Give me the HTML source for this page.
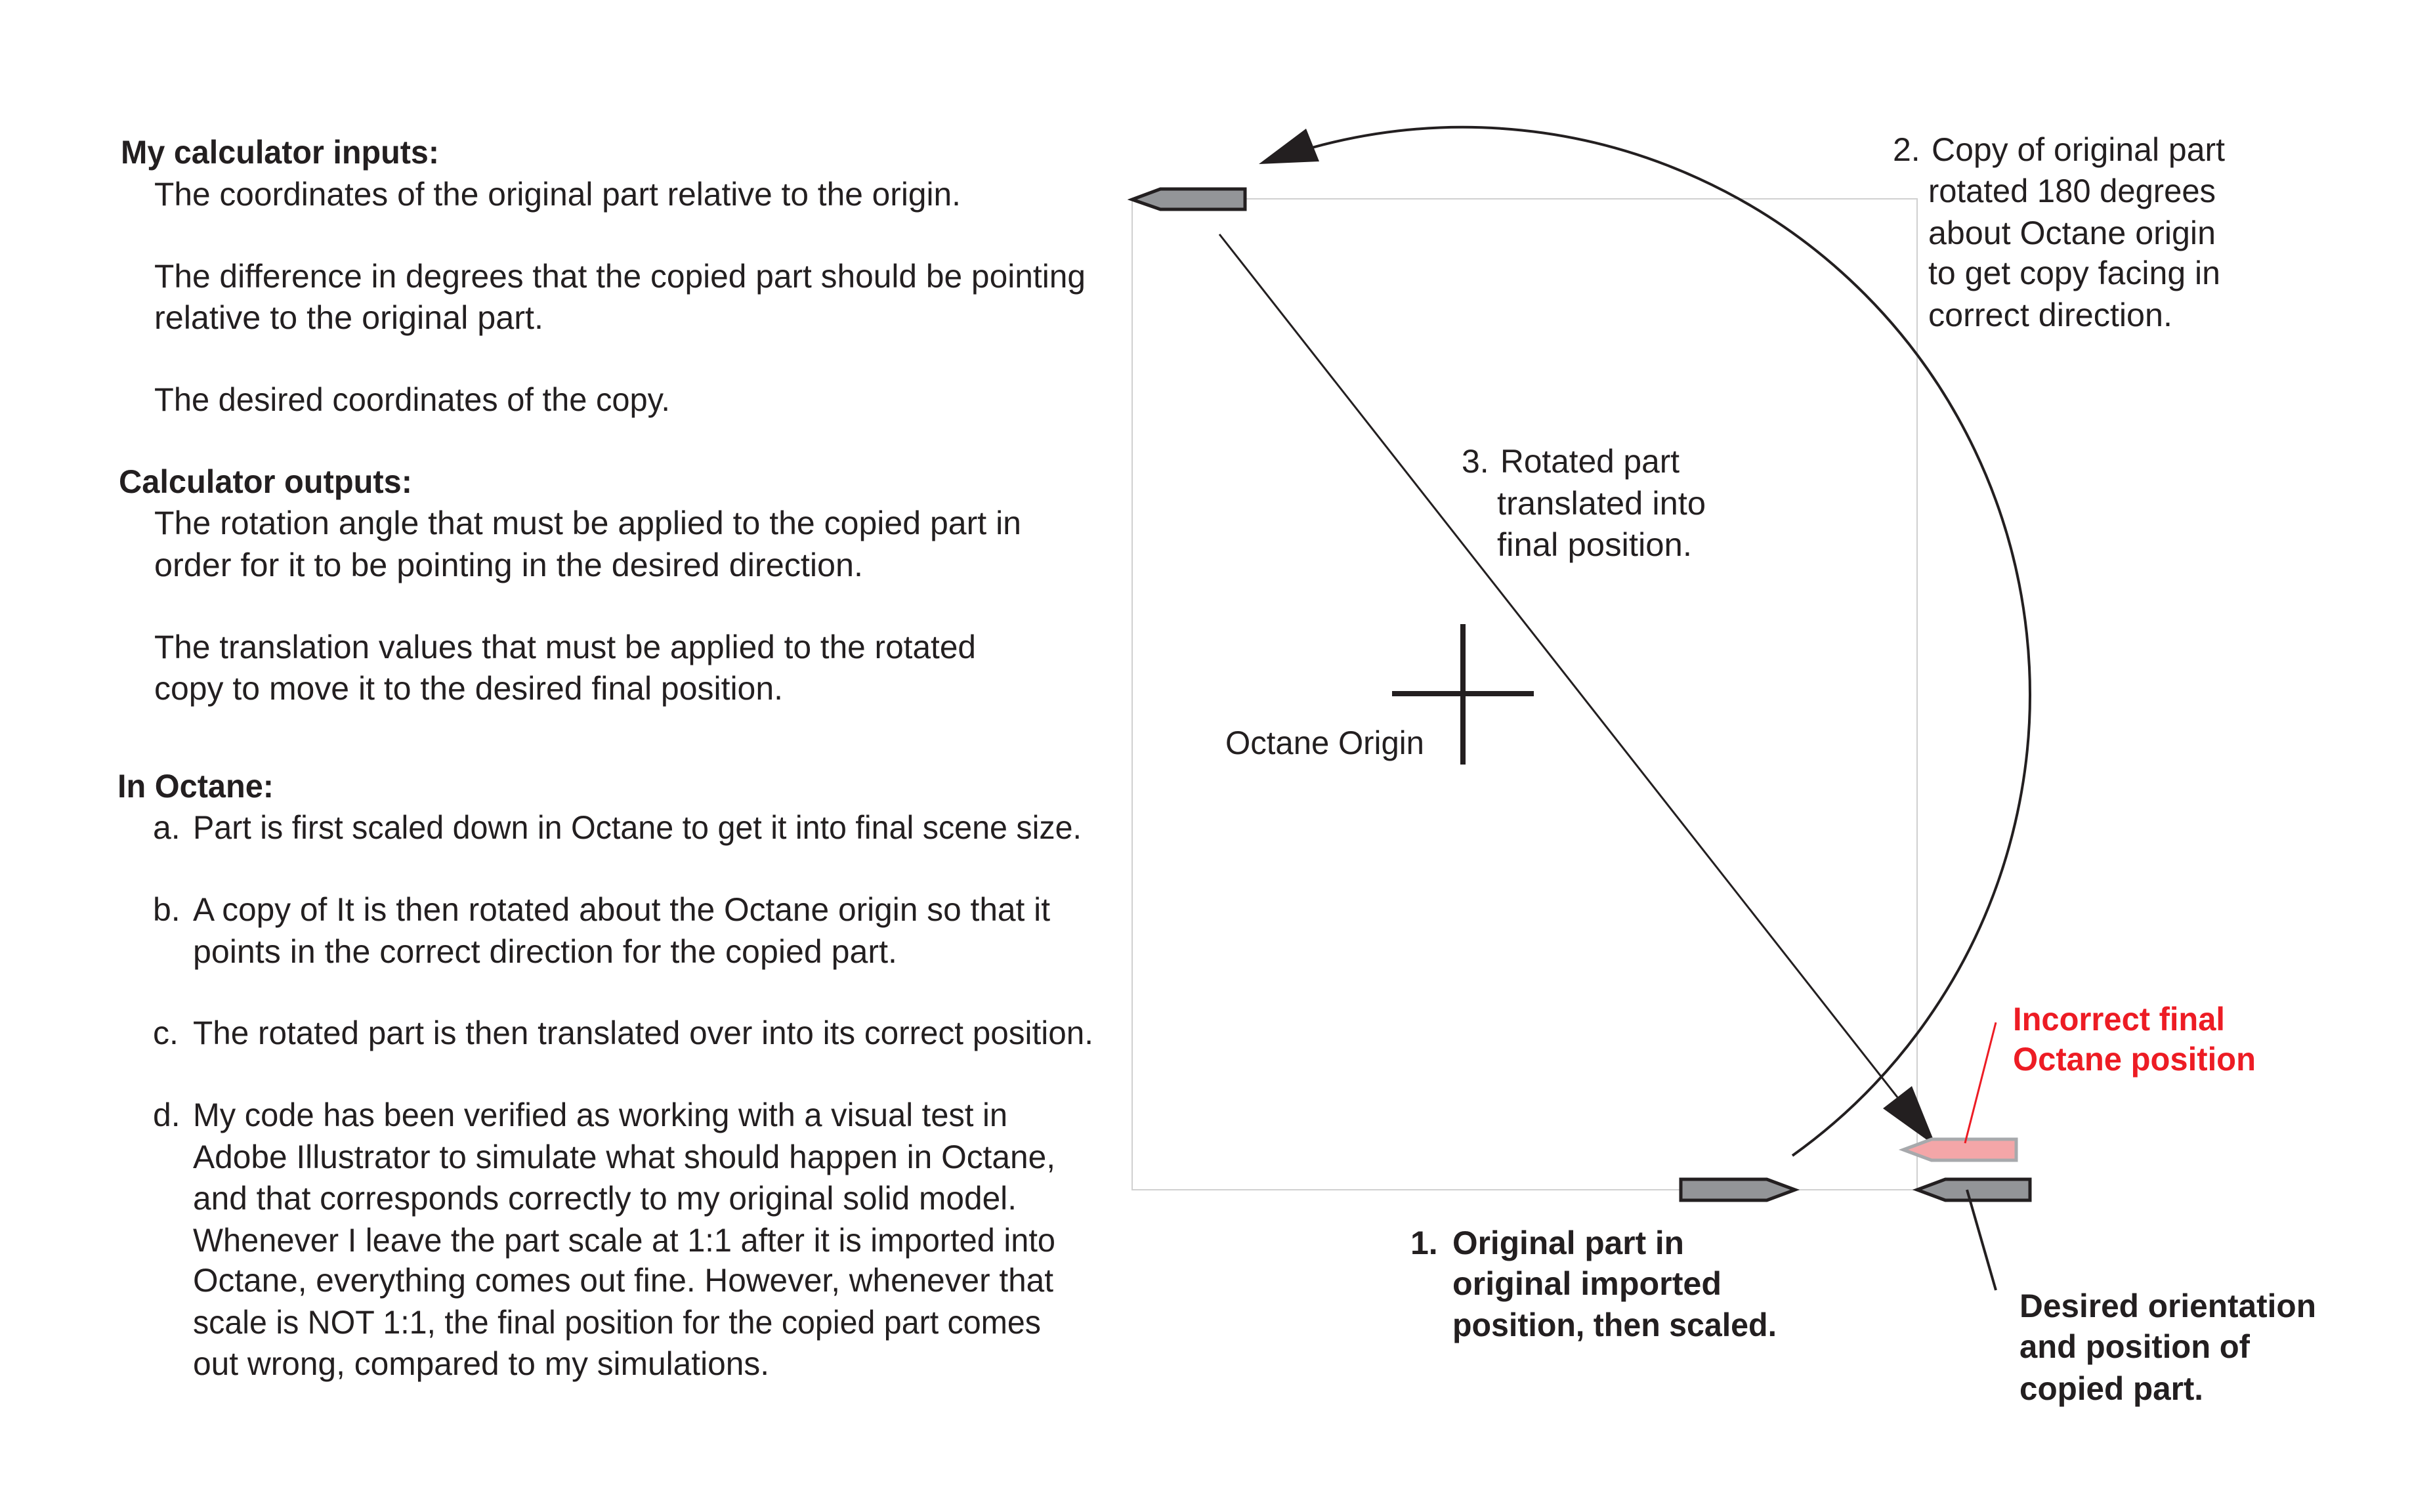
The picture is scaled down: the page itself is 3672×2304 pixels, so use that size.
<!DOCTYPE html>
<html><head><meta charset="utf-8"><style>html,body{margin:0;padding:0;background:#fff}svg{display:block}</style></head>
<body>
<svg width="3672" height="2304" viewBox="0 0 3672 2304" xmlns="http://www.w3.org/2000/svg" font-family="Liberation Sans, sans-serif" font-size="50" fill="#231f20">
<rect x="0" y="0" width="3672" height="2304" fill="#fff"/>
<rect x="1725" y="303" width="1196" height="1510" fill="none" stroke="#d0d0d0" stroke-width="2"/>
<!-- arc -->
<path d="M 2731 1761 A 864 864 0 0 0 1999 225" fill="none" stroke="#231f20" stroke-width="4"/>
<polygon points="1918,250 2010,246 1990,196" fill="#231f20"/>
<!-- diagonal -->
<line x1="1858" y1="357" x2="2891" y2="1672" stroke="#231f20" stroke-width="3"/>
<polygon points="2950,1747 2913,1655 2869,1689" fill="#231f20"/>
<!-- crosshair -->
<line x1="2229" y1="951" x2="2229" y2="1165" stroke="#231f20" stroke-width="8"/>
<line x1="2121" y1="1057" x2="2337" y2="1057" stroke="#231f20" stroke-width="8"/>
<!-- parts -->
<polygon points="1725,304 1768,288 1897,288 1897,319 1768,319" fill="#939598" stroke="#231f20" stroke-width="5"/>
<polygon points="2561,1797 2692,1797 2735,1813 2692,1829 2561,1829" fill="#939598" stroke="#231f20" stroke-width="5"/>
<polygon points="2921,1813 2964,1797 3093,1797 3093,1829 2964,1829" fill="#939598" stroke="#231f20" stroke-width="5"/>
<polygon points="2900,1752 2943,1736 3072,1736 3072,1768 2943,1768" fill="#f4a6a8" stroke="#a7a9ac" stroke-width="5"/>
<line x1="3041" y1="1558" x2="2994" y2="1742" stroke="#ed1c24" stroke-width="3"/>
<line x1="2997" y1="1813" x2="3041" y2="1966" stroke="#231f20" stroke-width="4"/>

<g>
<text x="184" y="249" font-weight="bold" textLength="485" lengthAdjust="spacingAndGlyphs">My calculator inputs:</text>
<text x="235" y="313" textLength="1229" lengthAdjust="spacingAndGlyphs">The coordinates of the original part relative to the origin.</text>
<text x="235" y="438" textLength="1419" lengthAdjust="spacingAndGlyphs">The difference in degrees that the copied part should be pointing</text>
<text x="235" y="501" textLength="593" lengthAdjust="spacingAndGlyphs">relative to the original part.</text>
<text x="235" y="626" textLength="786" lengthAdjust="spacingAndGlyphs">The desired coordinates of the copy.</text>
<text x="181" y="751" font-weight="bold" textLength="447" lengthAdjust="spacingAndGlyphs">Calculator outputs:</text>
<text x="235" y="814" textLength="1321" lengthAdjust="spacingAndGlyphs">The rotation angle that must be applied to the copied part in</text>
<text x="235" y="878" textLength="1080" lengthAdjust="spacingAndGlyphs">order for it to be pointing in the desired direction.</text>
<text x="235" y="1003" textLength="1252" lengthAdjust="spacingAndGlyphs">The translation values that must be applied to the rotated</text>
<text x="235" y="1066" textLength="958" lengthAdjust="spacingAndGlyphs">copy to move it to the desired final position.</text>
<text x="179" y="1215" font-weight="bold" textLength="238" lengthAdjust="spacingAndGlyphs">In Octane:</text>
<text x="233" y="1278">a.</text>
<text x="294" y="1278" textLength="1354" lengthAdjust="spacingAndGlyphs">Part is first scaled down in Octane to get it into final scene size.</text>
<text x="233" y="1403">b.</text>
<text x="294" y="1403" textLength="1306" lengthAdjust="spacingAndGlyphs">A copy of It is then rotated about the Octane origin so that it</text>
<text x="294" y="1467" textLength="1073" lengthAdjust="spacingAndGlyphs">points in the correct direction for the copied part.</text>
<text x="233" y="1591">c.</text>
<text x="294" y="1591" textLength="1372" lengthAdjust="spacingAndGlyphs">The rotated part is then translated over into its correct position.</text>
<text x="233" y="1716">d.</text>
<text x="294" y="1716" textLength="1241" lengthAdjust="spacingAndGlyphs">My code has been verified as working with a visual test in</text>
<text x="294" y="1780" textLength="1314" lengthAdjust="spacingAndGlyphs">Adobe Illustrator to simulate what should happen in Octane,</text>
<text x="294" y="1843" textLength="1255" lengthAdjust="spacingAndGlyphs">and that corresponds correctly to my original solid model.</text>
<text x="294" y="1907" textLength="1314" lengthAdjust="spacingAndGlyphs">Whenever I leave the part scale at 1:1 after it is imported into</text>
<text x="294" y="1968" textLength="1311" lengthAdjust="spacingAndGlyphs">Octane, everything comes out fine.  However, whenever that</text>
<text x="294" y="2032" textLength="1292" lengthAdjust="spacingAndGlyphs">scale is NOT 1:1, the final position for the copied part comes</text>
<text x="294" y="2095" textLength="878" lengthAdjust="spacingAndGlyphs">out wrong, compared to my simulations.</text>

<text x="2884" y="245">2.</text>
<text x="2943" y="245" textLength="447" lengthAdjust="spacingAndGlyphs">Copy of original part</text>
<text x="2938" y="308" textLength="438" lengthAdjust="spacingAndGlyphs">rotated 180 degrees</text>
<text x="2938" y="372" textLength="438" lengthAdjust="spacingAndGlyphs">about Octane origin</text>
<text x="2938" y="433" textLength="445" lengthAdjust="spacingAndGlyphs">to get copy facing in</text>
<text x="2938" y="497" textLength="372" lengthAdjust="spacingAndGlyphs">correct direction.</text>

<text x="2227" y="720">3.</text>
<text x="2286" y="720" textLength="273" lengthAdjust="spacingAndGlyphs">Rotated part</text>
<text x="2281" y="784" textLength="318" lengthAdjust="spacingAndGlyphs">translated into</text>
<text x="2281" y="847" textLength="297" lengthAdjust="spacingAndGlyphs">final position.</text>

<text x="1867" y="1149" textLength="303" lengthAdjust="spacingAndGlyphs">Octane Origin</text>

<text x="3067" y="1570" font-weight="bold" fill="#ed1c24" textLength="323" lengthAdjust="spacingAndGlyphs">Incorrect final</text>
<text x="3067" y="1631" font-weight="bold" fill="#ed1c24" textLength="370" lengthAdjust="spacingAndGlyphs">Octane position</text>

<text x="2149" y="1911" font-weight="bold">1.</text>
<text x="2213" y="1911" font-weight="bold" textLength="353" lengthAdjust="spacingAndGlyphs">Original part in</text>
<text x="2213" y="1973" font-weight="bold" textLength="410" lengthAdjust="spacingAndGlyphs">original imported</text>
<text x="2213" y="2036" font-weight="bold" textLength="494" lengthAdjust="spacingAndGlyphs">position, then scaled.</text>

<text x="3077" y="2007" font-weight="bold" textLength="452" lengthAdjust="spacingAndGlyphs">Desired orientation</text>
<text x="3077" y="2069" font-weight="bold" textLength="351" lengthAdjust="spacingAndGlyphs">and position of</text>
<text x="3077" y="2133" font-weight="bold" textLength="280" lengthAdjust="spacingAndGlyphs">copied part.</text>
</g>
</svg>
</body></html>
